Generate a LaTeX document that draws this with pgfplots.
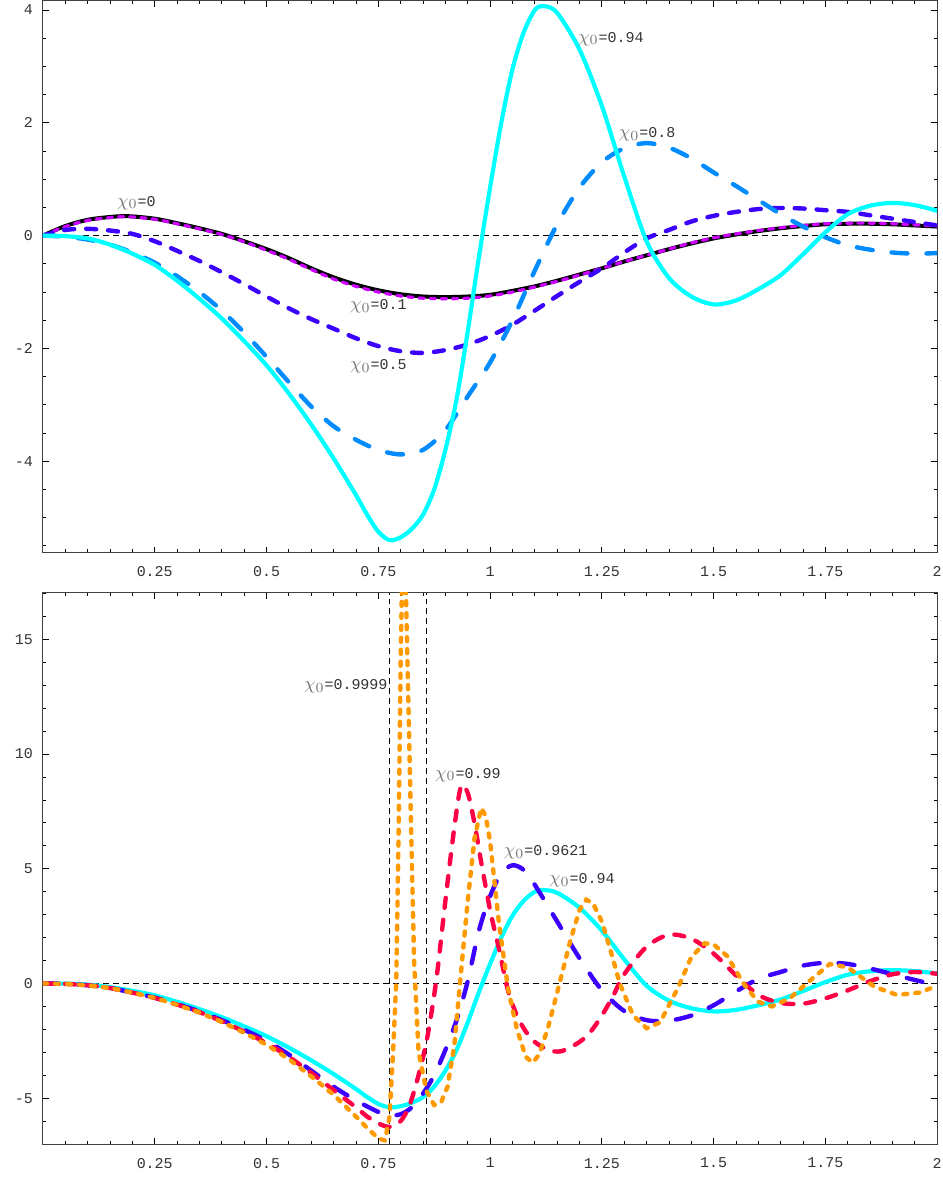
\documentclass[border=0pt]{standalone}
\usepackage{pgfplots}
\pgfplotsset{compat=1.18}
\usepackage{fontspec}
\setmonofont{Liberation Mono}
\newfontfamily\lmono{Liberation Mono}
\definecolor{cyc}{RGB}{0,255,255}
\definecolor{lblue}{RGB}{0,140,255}
\definecolor{bviol}{RGB}{60,0,255}
\definecolor{magc}{RGB}{204,0,255}
\definecolor{redc}{RGB}{255,0,70}
\definecolor{orc}{RGB}{255,153,0}
\tikzset{lab/.style={anchor=west, inner sep=0pt, font=\lmono\fontsize{7.5}{9}\selectfont, text=black!80}}
\pgfplotsset{
  myax/.style={scale only axis, width=447.5pt, height=276pt, xmin=0, xmax=2,
    xtick={0.25,0.5,0.75,1,1.25,1.5,1.75,2},
    xticklabels={0.25,0.5,0.75,1,1.25,1.5,1.75,2},
    minor xtick={0.05,0.1,0.15,0.2,0.3,0.35,0.4,0.45,0.55,0.6,0.65,0.7,0.8,0.85,0.9,0.95,1.05,1.1,1.15,1.2,1.3,1.35,1.4,1.45,1.55,1.6,1.65,1.7,1.8,1.85,1.9,1.95},
    major tick length=3pt, minor tick length=1.7pt,
    axis line style={black!75, line width=0.5pt},
    every tick/.style={black, line width=0.4pt},
    tick label style={font=\lmono\fontsize{7.5}{9}\selectfont, text=black!80},
    xticklabel style={yshift=-3.5pt},
    yticklabel style={xshift=-1.5pt},
    clip=true},
  zl/.style={black, line width=0.5pt, dash pattern=on 3pt off 2pt, forget plot},
}
\newcommand{\chil}[1]{\textcolor{black!55}{\fontsize{9.5}{10}\selectfont$\chi_{0}$}={#1}}
\begin{document}
\begin{tikzpicture}
\path[use as bounding box] (-21.5pt,0.5pt) rectangle (450pt,-590.5pt);
\begin{axis}[myax, at={(0,0)}, anchor=north west, ymin=-5.62, ymax=4.16,
  ytick={-4,-2,0,2,4}, yticklabels={-4,-2,0,2,4},
  minor ytick={-5.5,-5,-4.5,-3.5,-3,-2.5,-1.5,-1,-0.5,0.5,1,1.5,2.5,3,3.5}]
\addplot[zl] coordinates {(0,0) (2,0)};
\addplot[black, line width=2pt, smooth] coordinates {(0,0) (0.05,0.17) (0.1,0.28) (0.15,0.33) (0.19,0.345) (0.25,0.3) (0.3,0.22) (0.35,0.13) (0.4,0.03) (0.45,-0.1) (0.5,-0.24) (0.55,-0.4) (0.6,-0.58) (0.65,-0.74) (0.7,-0.87) (0.75,-0.97) (0.8,-1.04) (0.85,-1.08) (0.9,-1.09) (0.95,-1.08) (1.0,-1.05) (1.05,-0.98) (1.1,-0.9) (1.15,-0.8) (1.2,-0.69) (1.25,-0.58) (1.3,-0.46) (1.35,-0.35) (1.4,-0.24) (1.45,-0.14) (1.5,-0.05) (1.55,0.02) (1.6,0.08) (1.65,0.13) (1.7,0.17) (1.75,0.2) (1.8,0.21) (1.85,0.21) (1.9,0.2) (1.95,0.18) (2.0,0.16)};
\addplot[magc, line width=1.6pt, smooth, dash pattern=on 2.6pt off 3pt, line cap=round] coordinates {(0,0) (0.05,0.16) (0.1,0.27) (0.15,0.32) (0.19,0.335) (0.25,0.29) (0.3,0.21) (0.35,0.12) (0.4,0.02) (0.45,-0.11) (0.5,-0.26) (0.55,-0.42) (0.6,-0.6) (0.65,-0.77) (0.7,-0.9) (0.75,-1.0) (0.8,-1.07) (0.85,-1.11) (0.9,-1.12) (0.95,-1.11) (1.0,-1.07) (1.05,-1.0) (1.1,-0.91) (1.15,-0.81) (1.2,-0.7) (1.25,-0.58) (1.3,-0.46) (1.35,-0.35) (1.4,-0.24) (1.45,-0.13) (1.5,-0.04) (1.55,0.03) (1.6,0.09) (1.65,0.14) (1.7,0.18) (1.75,0.21) (1.8,0.22) (1.85,0.22) (1.9,0.21) (1.95,0.19) (2.0,0.17)};
\addplot[bviol, line width=2.2pt, smooth, dash pattern=on 5pt off 6pt, line cap=round] coordinates {(0,0) (0.05,0.1) (0.1,0.12) (0.15,0.09) (0.2,0.03) (0.25,-0.1) (0.3,-0.27) (0.35,-0.45) (0.4,-0.65) (0.45,-0.86) (0.5,-1.08) (0.55,-1.29) (0.6,-1.48) (0.65,-1.65) (0.7,-1.82) (0.75,-1.96) (0.8,-2.05) (0.85,-2.08) (0.9,-2.03) (0.95,-1.93) (1.0,-1.78) (1.05,-1.58) (1.1,-1.33) (1.15,-1.07) (1.2,-0.82) (1.25,-0.58) (1.3,-0.3) (1.35,-0.05) (1.4,0.1) (1.45,0.25) (1.5,0.35) (1.55,0.42) (1.6,0.47) (1.65,0.49) (1.7,0.48) (1.75,0.45) (1.8,0.42) (1.85,0.36) (1.9,0.3) (1.95,0.24) (2.0,0.18)};
\addplot[lblue, line width=2.2pt, smooth, dash pattern=on 8pt off 9.5pt, line cap=round] coordinates {(0,0) (0.05,-0.02) (0.1,-0.07) (0.15,-0.16) (0.2,-0.3) (0.25,-0.48) (0.3,-0.72) (0.35,-1.0) (0.4,-1.33) (0.45,-1.72) (0.5,-2.15) (0.55,-2.6) (0.6,-3.03) (0.65,-3.38) (0.7,-3.62) (0.75,-3.8) (0.8,-3.88) (0.85,-3.8) (0.9,-3.45) (0.95,-2.85) (1.0,-2.25) (1.05,-1.5) (1.1,-0.62) (1.15,0.2) (1.2,0.85) (1.25,1.3) (1.3,1.55) (1.35,1.64) (1.4,1.56) (1.45,1.37) (1.5,1.12) (1.55,0.88) (1.6,0.63) (1.65,0.38) (1.7,0.16) (1.75,-0.03) (1.8,-0.17) (1.85,-0.25) (1.9,-0.3) (1.95,-0.32) (2.0,-0.31)};
\addplot[cyc, line width=2.1pt, smooth] coordinates {(0,0) (0.05,-0.01) (0.1,-0.05) (0.15,-0.16) (0.2,-0.32) (0.25,-0.52) (0.3,-0.8) (0.35,-1.12) (0.4,-1.47) (0.45,-1.87) (0.5,-2.3) (0.55,-2.8) (0.6,-3.35) (0.65,-3.95) (0.7,-4.6) (0.725,-4.95) (0.75,-5.25) (0.775,-5.4) (0.8,-5.35) (0.825,-5.2) (0.85,-4.95) (0.875,-4.5) (0.9,-3.8) (0.925,-2.9) (0.95,-1.7) (0.975,-0.38) (1.0,0.85) (1.025,2.0) (1.05,2.95) (1.075,3.6) (1.1,4.0) (1.12,4.07) (1.15,3.95) (1.2,3.3) (1.25,2.3) (1.3,1.05) (1.35,-0.1) (1.4,-0.75) (1.45,-1.08) (1.5,-1.22) (1.55,-1.15) (1.6,-0.95) (1.65,-0.7) (1.7,-0.33) (1.75,0.06) (1.8,0.38) (1.85,0.53) (1.9,0.58) (1.95,0.54) (2.0,0.44)};
\node[lab] at (axis cs:0.165,0.58) {\chil{0}};
\node[lab] at (axis cs:1.196,3.49) {\chil{0.94}};
\node[lab] at (axis cs:1.287,1.79) {\chil{0.8}};
\node[lab] at (axis cs:0.686,-1.26) {\chil{0.1}};
\node[lab] at (axis cs:0.686,-2.32) {\chil{0.5}};
\end{axis}
\begin{axis}[myax, at={(0,-296pt)}, anchor=north west, ymin=-7, ymax=17.04,
  ytick={-5,0,5,10,15}, yticklabels={-5,0,5,10,15},
  minor ytick={-7,-6,-4,-3,-2,-1,1,2,3,4,6,7,8,9,11,12,13,14,16,17}]
\addplot[zl] coordinates {(0,0) (2,0)};
\addplot[zl] coordinates {(0.775,-7) (0.775,17.04)};
\addplot[zl] coordinates {(0.858,-7) (0.858,17.04)};
\addplot[cyc, line width=2.1pt, smooth] coordinates {(0,0) (0.05,-0.01) (0.1,-0.05) (0.15,-0.16) (0.2,-0.32) (0.25,-0.52) (0.3,-0.8) (0.35,-1.12) (0.4,-1.47) (0.45,-1.87) (0.5,-2.3) (0.55,-2.8) (0.6,-3.35) (0.65,-3.95) (0.7,-4.6) (0.725,-4.95) (0.75,-5.25) (0.775,-5.4) (0.8,-5.35) (0.825,-5.2) (0.85,-4.95) (0.875,-4.5) (0.9,-3.8) (0.925,-2.9) (0.95,-1.7) (0.975,-0.38) (1.0,0.85) (1.025,2.0) (1.05,2.95) (1.075,3.6) (1.1,4.0) (1.12,4.07) (1.15,3.95) (1.2,3.3) (1.25,2.3) (1.3,1.05) (1.35,-0.1) (1.4,-0.75) (1.45,-1.08) (1.5,-1.22) (1.55,-1.15) (1.6,-0.95) (1.65,-0.7) (1.7,-0.33) (1.75,0.06) (1.8,0.38) (1.85,0.53) (1.9,0.58) (1.95,0.54) (2.0,0.44)};
\addplot[bviol, line width=2.2pt, smooth, dash pattern=on 8pt off 9.5pt, line cap=round] coordinates {(0,0) (0.05,-0.02) (0.1,-0.08) (0.15,-0.2) (0.2,-0.4) (0.25,-0.62) (0.3,-0.9) (0.35,-1.22) (0.4,-1.6) (0.45,-2.02) (0.5,-2.5) (0.55,-3.1) (0.6,-3.8) (0.65,-4.5) (0.7,-5.1) (0.75,-5.6) (0.775,-5.75) (0.8,-5.7) (0.825,-5.4) (0.85,-4.8) (0.875,-4.0) (0.9,-2.9) (0.925,-1.6) (0.95,0.1) (0.975,2.3) (1.0,3.8) (1.025,4.8) (1.05,5.15) (1.075,4.95) (1.1,4.3) (1.15,2.7) (1.2,1.1) (1.25,-0.3) (1.3,-1.2) (1.35,-1.6) (1.4,-1.62) (1.45,-1.4) (1.5,-0.95) (1.55,-0.35) (1.6,0.2) (1.65,0.5) (1.7,0.78) (1.75,0.9) (1.8,0.85) (1.85,0.65) (1.9,0.4) (1.95,0.15) (2.0,-0.08)};
\addplot[redc, line width=2.2pt, smooth, dash pattern=on 5pt off 6pt, line cap=round] coordinates {(0,0) (0.05,-0.02) (0.1,-0.08) (0.15,-0.2) (0.2,-0.4) (0.25,-0.63) (0.3,-0.92) (0.35,-1.25) (0.4,-1.65) (0.45,-2.1) (0.5,-2.6) (0.55,-3.2) (0.6,-3.9) (0.65,-4.65) (0.7,-5.4) (0.725,-5.8) (0.75,-6.1) (0.775,-6.25) (0.8,-6.0) (0.82,-5.3) (0.84,-4.0) (0.86,-2.3) (0.88,0.2) (0.9,3.6) (0.92,6.8) (0.935,8.6) (0.95,8.3) (0.965,7.0) (0.98,5.3) (1.0,3.2) (1.02,1.5) (1.04,-0.3) (1.06,-1.4) (1.08,-2.1) (1.1,-2.55) (1.13,-2.9) (1.16,-2.95) (1.2,-2.55) (1.225,-2.1) (1.25,-1.4) (1.275,-0.55) (1.3,0.4) (1.35,1.6) (1.4,2.12) (1.45,1.95) (1.5,1.3) (1.55,0.35) (1.6,-0.5) (1.65,-0.85) (1.7,-0.88) (1.75,-0.65) (1.8,-0.3) (1.85,0.1) (1.9,0.4) (1.95,0.5) (2.0,0.42)};
\addplot[orc, line width=2.2pt, dash pattern=on 2pt off 4pt, line cap=round] coordinates {(0,0) (0.05,-0.02) (0.1,-0.08) (0.15,-0.2) (0.2,-0.4) (0.25,-0.63) (0.3,-0.93) (0.35,-1.27) (0.4,-1.68) (0.45,-2.15) (0.5,-2.67) (0.55,-3.3) (0.6,-4.05) (0.65,-4.85) (0.7,-5.8) (0.725,-6.3) (0.75,-6.75) (0.765,-6.85) (0.775,-5.8) (0.783,-3) (0.79,0) (0.795,6) (0.8,14) (0.806,21) (0.81,19) (0.813,16) (0.822,8) (0.83,1) (0.84,-3.0) (0.858,-4.7) (0.875,-5.3) (0.89,-5.2) (0.905,-4.5) (0.92,-2.7) (0.935,0.5) (0.95,3.6) (0.965,6.3) (0.98,7.65) (0.99,7.3) (1.0,6.2) (1.02,2.6) (1.04,-0.2) (1.06,-2.0) (1.08,-3.2) (1.095,-3.45) (1.11,-3.1) (1.13,-1.9) (1.15,-0.4) (1.18,1.9) (1.2,3.2) (1.215,3.65) (1.23,3.5) (1.25,2.7) (1.27,1.4) (1.29,0.0) (1.32,-1.4) (1.35,-1.95) (1.38,-1.7) (1.42,-0.2) (1.45,1.15) (1.48,1.75) (1.5,1.7) (1.53,1.2) (1.57,-0.1) (1.6,-0.8) (1.63,-1.0) (1.67,-0.65) (1.72,0.2) (1.76,0.85) (1.8,0.7) (1.86,-0.15) (1.91,-0.5) (1.96,-0.4) (2.0,-0.1)};
\node[lab] at (axis cs:0.583,12.96) {\chil{0.9999}};
\node[lab] at (axis cs:0.876,9.09) {\chil{0.99}};
\node[lab] at (axis cs:1.03,5.7) {\chil{0.9621}};
\node[lab] at (axis cs:1.131,4.48) {\chil{0.94}};
\end{axis}
\end{tikzpicture}
\end{document}
